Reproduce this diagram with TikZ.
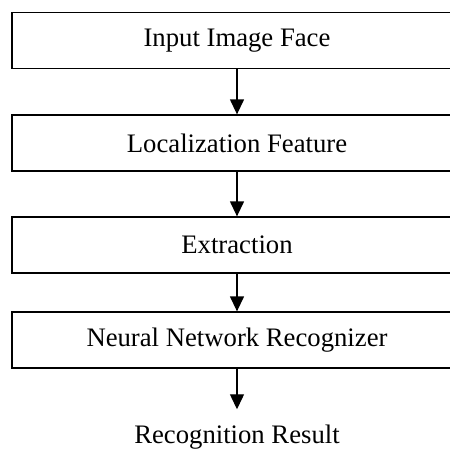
\documentclass[tikz,border=0pt]{standalone}
\usepackage{fontspec}
\setmainfont{Liberation Serif}
\usetikzlibrary{arrows.meta}
\begin{document}
\begin{tikzpicture}[x=1pt,y=-1pt,
  stagebox/.style={draw, line width=1.3pt, minimum width=450pt, minimum height=56pt, inner sep=0pt,
    font=\fontsize{26.7}{30}\selectfont},
  flow/.style={line width=1.3pt, -{Triangle[length=15pt,width=14pt]}},
  restext/.style={inner sep=0pt, font=\fontsize{26.7}{30}\selectfont}]
\useasboundingbox (0,0) rectangle (450,450);
\clip (0,0) rectangle (450,450);
\node[stagebox] (b1) at (237,40.5) {Input Image Face};
\node[stagebox] (b2) at (237,143) {Localization Feature};
\node[stagebox] (b3) at (237,245) {Extraction};
\node[stagebox] (b4) at (237,340) {Neural Network Recognizer};
\node[restext, anchor=base] (res) at (237,443) {Recognition Result};
\draw[flow] (b1.south) -- (b2.north);
\draw[flow] (b2.south) -- (b3.north);
\draw[flow] (b3.south) -- (b4.north);
\draw[flow, shorten >=15pt] (b4.south) -- (res.north);
\end{tikzpicture}
\end{document}
